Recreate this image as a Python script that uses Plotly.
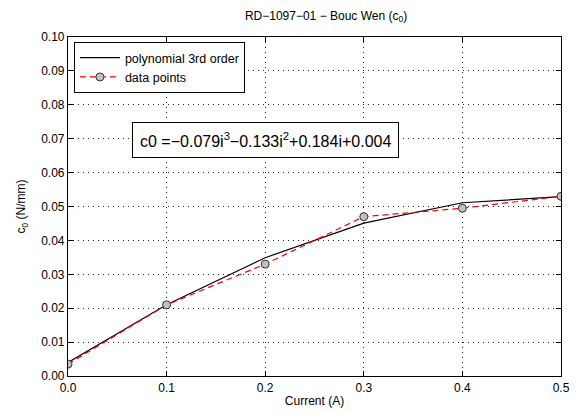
import plotly.graph_objects as go

# Damper current (A) and measured Bouc-Wen c0 coefficient (N/mm)
current = [0.0, 0.1, 0.2, 0.3, 0.4, 0.5]
c0_measured = [0.0035, 0.0210, 0.0330, 0.0470, 0.0495, 0.0530]
# 3rd order polynomial fit evaluated at the measured currents
c0_fit = [0.0040, 0.0210, 0.0349, 0.0451, 0.0511, 0.0529]

x_ticks = [0.0, 0.1, 0.2, 0.3, 0.4, 0.5]
y_ticks = [0.00, 0.01, 0.02, 0.03, 0.04, 0.05, 0.06, 0.07, 0.08, 0.09, 0.10]

font_family = "Liberation Sans, Arial, Helvetica, sans-serif"

fig = go.Figure()
fig.add_trace(go.Scatter(
    x=current, y=c0_fit, mode="lines", name="polynomial 3rd order",
    line=dict(color="black", width=1.2),
))
fig.add_trace(go.Scatter(
    x=current, y=c0_measured, mode="lines+markers", name="data points",
    line=dict(color="red", width=1.2, dash="6px,4px"),
    marker=dict(size=8, color="#c0c0c0", line=dict(color="#333333", width=1)),
))

axis_common = dict(
    showline=True, linecolor="black", linewidth=1.2, mirror="ticks",
    ticks="inside", ticklen=5, tickcolor="black",
    showgrid=True, gridcolor="#222222", griddash="1px,4px", gridwidth=1,
    zeroline=False, automargin=False,
    tickfont=dict(family=font_family, size=12, color="black"),
)

fig.update_layout(
    width=576, height=414,
    margin=dict(l=68, r=15, t=37, b=38),
    paper_bgcolor="white", plot_bgcolor="white",
    font=dict(family=font_family, size=12, color="black"),
    title=dict(text="RD−1097−01 − Bouc Wen (c<sub>0</sub>)",
               x=0.566, xanchor="center", y=0.962, yanchor="middle",
               font=dict(size=12)),
    xaxis=dict(axis_common, range=[0, 0.5], tickvals=x_ticks, tickformat=".1f",
               title=dict(text="Current (A)", standoff=3, font=dict(size=12))),
    yaxis=dict(axis_common, range=[0, 0.1], tickvals=y_ticks, tickformat=".2f",
               title=dict(text="c<sub>0</sub> (N/mm)", standoff=12, font=dict(size=12))),
    legend=dict(x=0.012, y=0.985, xanchor="left", yanchor="top",
                bgcolor="white", bordercolor="black", borderwidth=1,
                font=dict(size=12.5), tracegroupgap=0, itemwidth=40),
    showlegend=True,
)

fig.add_annotation(
    x=0.2005, y=0.0696, xref="x", yref="y",
    text="c0 =−0.079i<sup>3</sup>−0.133i<sup>2</sup>+0.184i+0.004",
    showarrow=False, font=dict(size=16, color="black"),
    bgcolor="white", bordercolor="black", borderwidth=1, borderpad=7,
)

fig.write_html("out.html")
